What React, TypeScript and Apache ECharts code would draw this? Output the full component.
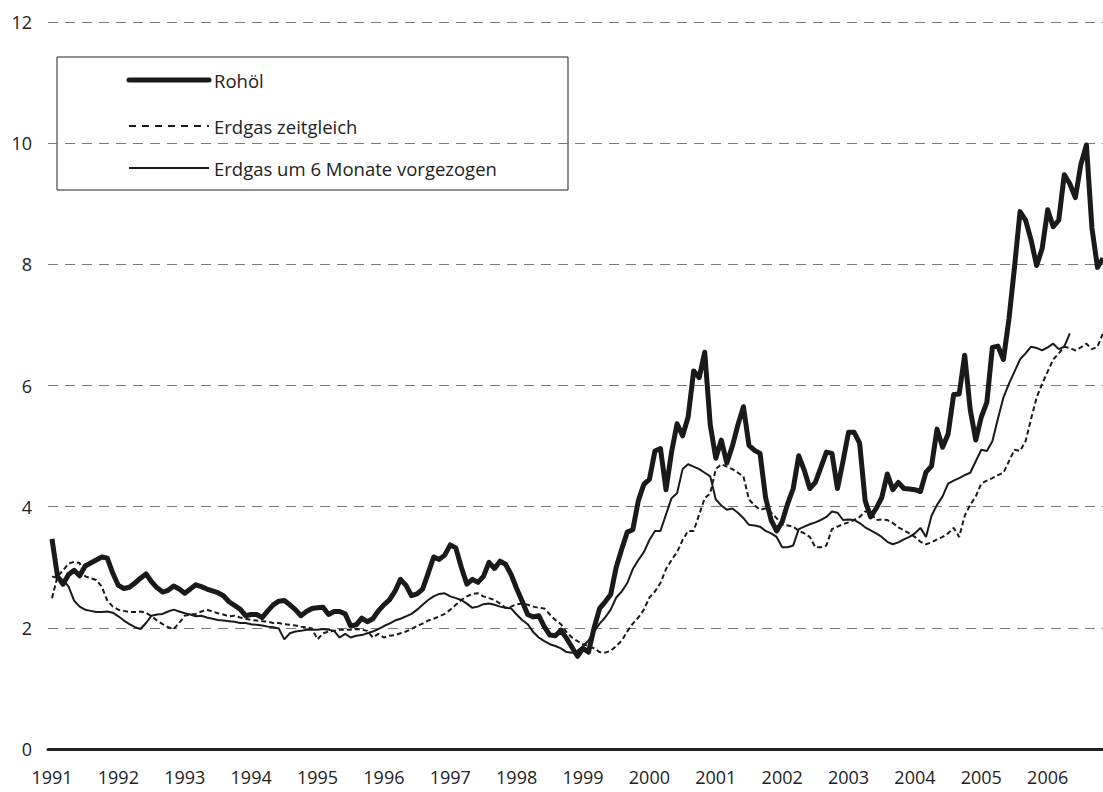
import React, { useEffect, useRef } from "react";
import * as echarts from "echarts";

// Monthly data, Jan 1991 – Nov 2006 (index 0 = Jan 1991)
const years = ["1991","1992","1993","1994","1995","1996","1997","1998","1999","2000","2001","2002","2003","2004","2005","2006"];
const yTicks = [0, 2, 4, 6, 8, 10, 12];

const rohoel = [
  3.47, 2.85, 2.72, 2.88, 2.95, 2.86, 3.02, 3.07, 3.12, 3.17, 3.15, 2.9,
  2.7, 2.65, 2.67, 2.74, 2.82, 2.89, 2.76, 2.66, 2.59, 2.62, 2.69, 2.64,
  2.57, 2.64, 2.71, 2.68, 2.64, 2.61, 2.58, 2.53, 2.43, 2.37, 2.31, 2.2,
  2.22, 2.22, 2.17, 2.28, 2.38, 2.44, 2.45, 2.38, 2.3, 2.2, 2.27, 2.32,
  2.33, 2.34, 2.22, 2.27, 2.27, 2.23, 2.03, 2.05, 2.16, 2.1, 2.15, 2.28,
  2.38, 2.46, 2.6, 2.8, 2.7, 2.53, 2.56, 2.64, 2.9, 3.17, 3.13, 3.2,
  3.37, 3.32, 3.0, 2.72, 2.8, 2.75, 2.85, 3.08, 2.98, 3.1, 3.05, 2.88,
  2.65, 2.44, 2.22, 2.18, 2.2, 2.02, 1.88, 1.87, 1.96, 1.83, 1.68, 1.53,
  1.66, 1.6, 2.0, 2.32, 2.43, 2.55, 3.0, 3.3, 3.58, 3.62, 4.1, 4.37,
  4.45, 4.92, 4.96, 4.28, 4.9, 5.37, 5.17, 5.48, 6.24, 6.13, 6.55, 5.35,
  4.8, 5.1, 4.72, 5.0, 5.35, 5.65, 5.01, 4.93, 4.88, 4.15, 3.78, 3.6,
  3.75, 4.05, 4.3, 4.84, 4.6, 4.3, 4.4, 4.65, 4.9, 4.88, 4.3, 4.75,
  5.23, 5.23, 5.05, 4.1, 3.83, 3.97, 4.15, 4.54, 4.28, 4.4, 4.3, 4.29,
  4.28, 4.25, 4.57, 4.67, 5.28, 4.98, 5.2, 5.85, 5.86, 6.5, 5.6, 5.1,
  5.48, 5.72, 6.63, 6.65, 6.43, 7.1, 7.95, 8.87, 8.73, 8.4, 7.98, 8.26,
  8.9, 8.62, 8.73, 9.48, 9.33, 9.1, 9.65, 9.97, 8.6, 7.95, 8.1
];

const erdgas = [
  2.49, 2.85, 2.95, 3.06, 3.09, 3.07, 2.85, 2.82, 2.79, 2.68, 2.45, 2.35,
  2.3, 2.28, 2.26, 2.26, 2.27, 2.25, 2.19, 2.12, 2.06, 2.01, 1.98, 2.08,
  2.2, 2.22, 2.23, 2.27, 2.3, 2.27, 2.24, 2.22, 2.19, 2.2, 2.17, 2.15,
  2.13, 2.12, 2.11, 2.1, 2.08, 2.08, 2.06, 2.05, 2.04, 2.02, 2.01, 1.99,
  1.81, 1.91, 1.94, 1.95, 1.97, 1.97, 1.97, 1.98, 1.97, 1.95, 1.84, 1.9,
  1.84, 1.87, 1.88, 1.91, 1.94, 1.98, 2.03, 2.07, 2.12, 2.15, 2.19, 2.23,
  2.3, 2.38, 2.46, 2.52, 2.56, 2.57, 2.52, 2.49, 2.46, 2.4, 2.33, 2.35,
  2.39, 2.4, 2.38, 2.35, 2.33, 2.32, 2.22, 2.13, 2.06, 1.93, 1.84, 1.78,
  1.73, 1.7, 1.66, 1.6, 1.59, 1.62, 1.7, 1.79, 1.94, 2.07, 2.17, 2.3,
  2.5, 2.6, 2.74, 2.97, 3.12, 3.25, 3.45, 3.6, 3.6, 3.87, 4.14, 4.22,
  4.62, 4.7, 4.66, 4.62, 4.56, 4.5, 4.12, 4.02, 3.95, 3.97, 3.9, 3.81,
  3.7, 3.69, 3.67, 3.6, 3.56, 3.5, 3.33, 3.33, 3.36, 3.63, 3.67, 3.71,
  3.74, 3.78, 3.83, 3.92, 3.9, 3.78, 3.79, 3.78, 3.73, 3.66, 3.61, 3.56,
  3.5, 3.42, 3.38, 3.41, 3.46, 3.5, 3.56, 3.65, 3.5, 3.85, 4.03, 4.17,
  4.38, 4.43, 4.47, 4.52, 4.56, 4.75, 4.94, 4.92, 5.08, 5.45, 5.8, 6.03,
  6.23, 6.43, 6.53, 6.64, 6.62, 6.58, 6.63, 6.69, 6.6, 6.64, 6.86
];

// "Erdgas um 6 Monate vorgezogen": the gas series shifted six months earlier
const LEAD = 6;
const erdgasVorgezogen = erdgas.slice(LEAD);

const FONT = "'Open Sans', 'Noto Sans', sans-serif";
const INK = "#1a1a1a";

export default function App() {
  const ref = useRef<HTMLDivElement>(null);

  useEffect(() => {
    if (!ref.current) return;
    const chart = echarts.init(ref.current, null, { renderer: "svg" });
    const toPairs = (arr: number[]) => arr.map((v, i) => [i, v]);

    chart.setOption({
      animation: false,
      backgroundColor: "#ffffff",
      grid: { left: 48, right: 0, top: 22, bottom: 43, containLabel: false },
      xAxis: {
        type: "value",
        min: -0.72,
        max: 190,
        axisLine: { show: true, onZero: false, lineStyle: { color: "#222", width: 3 } },
        axisTick: { show: false },
        splitLine: { show: false },
        axisLabel: {
          customValues: years.map((_, k) => k * 12),
          formatter: (v: number) => years[Math.round(v / 12)] ?? "",
          fontSize: 18,
          fontFamily: FONT,
          color: "#222",
          margin: 18,
          lineHeight: 20,
        },
      },
      yAxis: {
        type: "value",
        min: 0,
        max: 12,
        interval: 2,
        axisLine: { show: false },
        axisTick: { show: false },
        axisLabel: {
          fontSize: 18,
          fontFamily: FONT,
          color: "#222",
          margin: 16,
          formatter: (v: number) => (yTicks.includes(v) ? String(v) : ""),
        },
        splitLine: {
          show: true,
          lineStyle: { color: "#7a7a7a", width: 1, type: [10, 7] },
        },
      },
      series: [
        {
          name: "Erdgas zeitgleich",
          type: "line",
          data: toPairs(erdgas),
          showSymbol: false,
          symbol: "none",
          z: 3,
          lineStyle: { color: INK, width: 2, type: [5, 3] },
        },
        {
          name: "Erdgas um 6 Monate vorgezogen",
          type: "line",
          data: toPairs(erdgasVorgezogen),
          showSymbol: false,
          symbol: "none",
          z: 4,
          lineStyle: { color: INK, width: 2 },
        },
        {
          name: "Rohöl",
          type: "line",
          data: toPairs(rohoel),
          showSymbol: false,
          symbol: "none",
          z: 5,
          lineStyle: { color: INK, width: 5, join: "round" },
        },
      ],
      graphic: [
        {
          type: "group",
          z: 100,
          children: [
            {
              type: "rect",
              shape: { x: 57, y: 57, width: 511, height: 133 },
              style: { fill: "#ffffff", stroke: "#222", lineWidth: 1 },
            },
            {
              type: "line",
              shape: { x1: 129, y1: 80, x2: 209, y2: 80 },
              style: { stroke: INK, lineWidth: 5, lineCap: "round" },
            },
            {
              type: "text",
              x: 214,
              y: 80,
              style: { text: "Rohöl", fontSize: 18.5, fontFamily: FONT, fill: "#222", verticalAlign: "middle" },
            },
            {
              type: "line",
              shape: { x1: 129, y1: 126, x2: 209, y2: 126 },
              style: { stroke: INK, lineWidth: 2, lineDash: [7, 6] },
            },
            {
              type: "text",
              x: 214,
              y: 126,
              style: { text: "Erdgas zeitgleich", fontSize: 18.5, fontFamily: FONT, fill: "#222", verticalAlign: "middle" },
            },
            {
              type: "line",
              shape: { x1: 129, y1: 168, x2: 209, y2: 168 },
              style: { stroke: INK, lineWidth: 2 },
            },
            {
              type: "text",
              x: 214,
              y: 168,
              style: { text: "Erdgas um 6 Monate vorgezogen", fontSize: 18.5, fontFamily: FONT, fill: "#222", verticalAlign: "middle" },
            },
          ],
        },
      ],
    });

    return () => chart.dispose();
  }, []);

  return <div ref={ref} style={{ width: 1103, height: 792, position: "absolute", left: 0, top: 0 }} />;
}
